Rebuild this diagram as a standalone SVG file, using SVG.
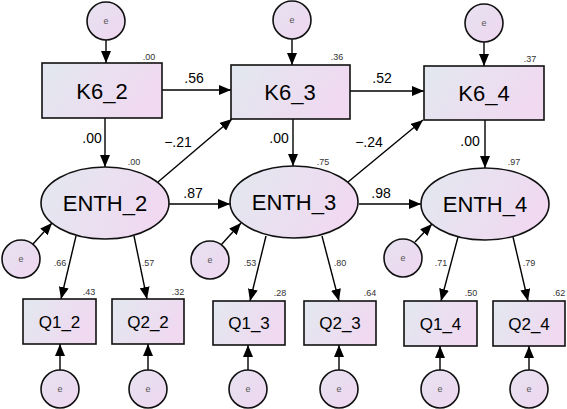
<svg xmlns="http://www.w3.org/2000/svg" width="567" height="409" viewBox="0 0 567 409">
<defs>
<linearGradient id="g" x1="0" y1="0" x2="1" y2="0.3">
<stop offset="0" stop-color="#e2e8ef"/>
<stop offset="1" stop-color="#f0d9f1"/>
</linearGradient>
<linearGradient id="gc" x1="0" y1="0" x2="1" y2="1">
<stop offset="0" stop-color="#e6e2f0"/>
<stop offset="1" stop-color="#efd6f0"/>
</linearGradient>
<marker id="a" markerUnits="userSpaceOnUse" markerWidth="12" markerHeight="10" refX="12" refY="5" orient="auto">
<path d="M0,0 L12,5 L0,10 z" fill="#000"/>
</marker>
</defs>
<style>
.n{fill:url(#g);stroke:#111;stroke-width:1.6}
.e{fill:url(#gc);stroke:#111;stroke-width:1.6}
.t{font-family:"Liberation Sans",Arial,sans-serif;font-size:22px;text-anchor:middle;fill:#000}
.q{font-family:"Liberation Sans",Arial,sans-serif;font-size:17px;text-anchor:middle;fill:#000}
.et{font-family:"Liberation Sans",Arial,sans-serif;font-size:9px;text-anchor:middle;fill:#555}
.l{font-family:"Liberation Sans",Arial,sans-serif;font-size:14px;text-anchor:middle;fill:#000}
.s{font-family:"Liberation Sans",Arial,sans-serif;font-size:9px;text-anchor:middle;fill:#333}
.c line{stroke:#000;stroke-width:1.4;marker-end:url(#a)}
</style>
<g class="c" id="connectors">
<line x1="106" y1="40" x2="106" y2="63"/>
<line x1="292" y1="39" x2="292" y2="65"/>
<line x1="484" y1="42" x2="484" y2="66"/>
<line x1="162" y1="90" x2="231" y2="90"/>
<line x1="350" y1="91" x2="424" y2="91"/>
<line x1="105" y1="118" x2="105" y2="167"/>
<line x1="293" y1="119" x2="293" y2="166"/>
<line x1="485" y1="120" x2="485" y2="168"/>
<line x1="158" y1="182" x2="232" y2="119"/>
<line x1="348" y1="182" x2="423" y2="120"/>
<line x1="169" y1="204" x2="230" y2="204"/>
<line x1="359" y1="204" x2="421" y2="204"/>
<line x1="33" y1="244" x2="52" y2="223"/>
<line x1="221" y1="245" x2="241" y2="223"/>
<line x1="415" y1="242" x2="432" y2="224"/>
<line x1="76" y1="236" x2="61" y2="299"/>
<line x1="134" y1="236" x2="147" y2="299"/>
<line x1="266" y1="236" x2="250" y2="301"/>
<line x1="322" y1="236" x2="339" y2="301"/>
<line x1="458" y1="237" x2="441" y2="301"/>
<line x1="513" y1="237" x2="528" y2="301"/>
<line x1="60" y1="370" x2="60" y2="344"/>
<line x1="148" y1="370" x2="148" y2="344"/>
<line x1="248" y1="370" x2="248" y2="345"/>
<line x1="339" y1="370" x2="339" y2="345"/>
<line x1="440" y1="370" x2="440" y2="346"/>
<line x1="529" y1="370" x2="529" y2="346"/>
</g>
<g id="edge-labels">
<text class="l" x="194" y="83">.56</text>
<text class="l" x="382" y="83">.52</text>
<text class="l" x="92" y="143">.00</text>
<text class="l" x="279" y="143">.00</text>
<text class="l" x="470" y="146">.00</text>
<text class="l" x="178" y="147">−.21</text>
<text class="l" x="369" y="147">−.24</text>
<text class="l" x="193" y="198">.87</text>
<text class="l" x="381" y="198">.98</text>
<text class="s" x="60" y="266">.66</text>
<text class="s" x="148" y="266">.57</text>
<text class="s" x="250" y="266">.53</text>
<text class="s" x="340" y="266">.80</text>
<text class="s" x="441" y="266">.71</text>
<text class="s" x="529" y="266">.79</text>
</g>
<g id="e_k62"><circle class="e" cx="106" cy="21" r="19"/><text class="et" x="106" y="24">e</text></g>
<g id="e_k63"><circle class="e" cx="292" cy="20" r="19"/><text class="et" x="292" y="23">e</text></g>
<g id="e_k64"><circle class="e" cx="484" cy="23" r="19"/><text class="et" x="484" y="26">e</text></g>
<g id="K6_2"><rect class="n" x="42" y="63" width="120" height="55"/><text class="t" x="102" y="98.5">K6_2</text><text class="s" x="149" y="60">.00</text></g>
<g id="K6_3"><rect class="n" x="231" y="65" width="119" height="54"/><text class="t" x="290" y="99.5">K6_3</text><text class="s" x="337" y="60">.36</text></g>
<g id="K6_4"><rect class="n" x="424" y="66" width="120" height="54"/><text class="t" x="484" y="100.5">K6_4</text><text class="s" x="530" y="62">.37</text></g>
<g id="ENTH_2"><ellipse class="n" cx="105" cy="203" rx="64" ry="36"/><text class="t" x="105" y="211">ENTH_2</text><text class="s" x="134" y="165">.00</text></g>
<g id="ENTH_3"><ellipse class="n" cx="294" cy="202" rx="64" ry="36"/><text class="t" x="294" y="210">ENTH_3</text><text class="s" x="323" y="165">.75</text></g>
<g id="ENTH_4"><ellipse class="n" cx="485" cy="204" rx="64" ry="36"/><text class="t" x="485" y="212">ENTH_4</text><text class="s" x="514" y="165">.97</text></g>
<g id="e_enth2"><circle class="e" cx="21" cy="259" r="19"/><text class="et" x="21" y="262">e</text></g>
<g id="e_enth3"><circle class="e" cx="210" cy="260" r="19"/><text class="et" x="210" y="263">e</text></g>
<g id="e_enth4"><circle class="e" cx="403" cy="258" r="19"/><text class="et" x="403" y="261">e</text></g>
<g id="Q1_2"><rect class="n" x="23" y="299" width="73" height="45"/><text class="q" x="59.5" y="327.5">Q1_2</text><text class="s" x="89" y="295">.43</text></g>
<g id="Q2_2"><rect class="n" x="112" y="299" width="72" height="45"/><text class="q" x="148" y="327.5">Q2_2</text><text class="s" x="178" y="295">.32</text></g>
<g id="Q1_3"><rect class="n" x="213" y="301" width="72" height="44"/><text class="q" x="249" y="329">Q1_3</text><text class="s" x="280" y="296">.28</text></g>
<g id="Q2_3"><rect class="n" x="304" y="301" width="72" height="44"/><text class="q" x="340" y="329">Q2_3</text><text class="s" x="370" y="296">.64</text></g>
<g id="Q1_4"><rect class="n" x="404" y="301" width="73" height="45"/><text class="q" x="440.5" y="329.5">Q1_4</text><text class="s" x="471" y="296">.50</text></g>
<g id="Q2_4"><rect class="n" x="493" y="301" width="72" height="45"/><text class="q" x="529" y="329.5">Q2_4</text><text class="s" x="559" y="296">.62</text></g>
<g id="e_q12"><circle class="e" cx="60" cy="389" r="19"/><text class="et" x="60" y="392">e</text></g>
<g id="e_q22"><circle class="e" cx="148" cy="389" r="19"/><text class="et" x="148" y="392">e</text></g>
<g id="e_q13"><circle class="e" cx="248" cy="389" r="19"/><text class="et" x="248" y="392">e</text></g>
<g id="e_q23"><circle class="e" cx="339" cy="389" r="19"/><text class="et" x="339" y="392">e</text></g>
<g id="e_q14"><circle class="e" cx="440" cy="389" r="19"/><text class="et" x="440" y="392">e</text></g>
<g id="e_q24"><circle class="e" cx="529" cy="389" r="19"/><text class="et" x="529" y="392">e</text></g>
</svg>
